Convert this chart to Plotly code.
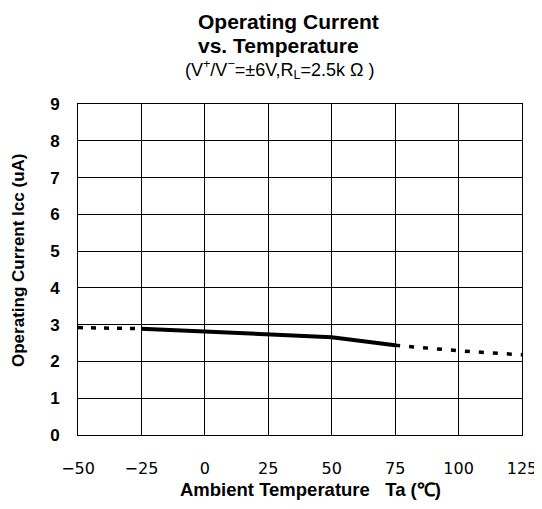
import plotly.graph_objects as go

# Data
temp_low = [-50, -25]
icc_low = [2.92, 2.89]
temp_mid = [-25, 0, 25, 50, 75]
icc_mid = [2.89, 2.82, 2.73, 2.66, 2.44]
temp_high = [75, 100, 125]
icc_high = [2.44, 2.29, 2.18]

x_ticks = [-50, -25, 0, 25, 50, 75, 100, 125]
x_tick_labels = ["−50", "−25", "0", "25", "50", "75", "100", "125"]
y_ticks = list(range(0, 10))

FONT = "Liberation Sans, Arial, sans-serif"
TICKFONT = "DejaVu Sans, sans-serif"

# page body has an 8px margin; figure is sized so it fills the window
OFF = 8
W, H = 542 - OFF, 509 - OFF
L, R, T, B = 78 - OFF, 20, 104 - OFF, 74
PW, PH = W - L - R, H - T - B

fig = go.Figure()
fig.add_trace(go.Scatter(x=temp_low, y=icc_low, mode="lines",
                         line=dict(color="black", width=3.5, dash="5px,8px"),
                         showlegend=False))
fig.add_trace(go.Scatter(x=temp_mid, y=icc_mid, mode="lines",
                         line=dict(color="black", width=4),
                         showlegend=False))
fig.add_trace(go.Scatter(x=temp_high, y=icc_high, mode="lines",
                         line=dict(color="black", width=3.5, dash="5px,9px"),
                         showlegend=False))

fig.update_layout(
    width=W, height=H,
    margin=dict(l=L, r=R, t=T, b=B),
    paper_bgcolor="white", plot_bgcolor="white",
    font=dict(family=FONT, color="black"),
    showlegend=False,
)
fig.update_xaxes(range=[-50, 125], tickvals=x_ticks, ticktext=x_tick_labels,
                 showgrid=True, gridcolor="black", gridwidth=1,
                 showline=True, linecolor="black", linewidth=1, mirror=True,
                 zeroline=False, ticks="", automargin=False,
                 tickfont=dict(size=16, family=TICKFONT, color="black"),
                 ticklabelstandoff=19)
fig.update_yaxes(range=[0, 9], tickvals=y_ticks,
                 ticktext=[f"<b>{v}</b>" for v in y_ticks],
                 showgrid=True, gridcolor="black", gridwidth=1,
                 showline=True, linecolor="black", linewidth=1, mirror=True,
                 zeroline=False, ticks="", automargin=False,
                 tickfont=dict(size=17, family=FONT, color="black"),
                 ticklabelstandoff=14)


def px_to_paper(px, py):
    # px, py are window coordinates of the reference picture
    px -= OFF
    py -= OFF
    return (px - L) / PW, 1 - (py - T) / PH


texts = [
    ("<b>Operating Current</b>", 288, 21, 21, 0),
    ("<b>vs. Temperature</b>", 278, 46, 21, 0),
    ("(V<sup>+</sup>/V<sup>−</sup>=±6V,R<sub>L</sub>=2.5k Ω )", 280, 69, 18, 0),
    ("<b>Ambient Temperature   Ta (℃)</b>", 310, 489, 18.5, 0),
    ("<b>Operating Current Icc (uA)</b>", 19, 261, 17, -90),
]
for text, x, y, size, ang in texts:
    ax, ay = px_to_paper(x, y)
    fig.add_annotation(text=text, x=ax, y=ay, xref="paper", yref="paper",
                       showarrow=False, xanchor="center", yanchor="middle",
                       textangle=ang,
                       font=dict(family=FONT, color="black", size=size))

fig.write_html("out.html")
